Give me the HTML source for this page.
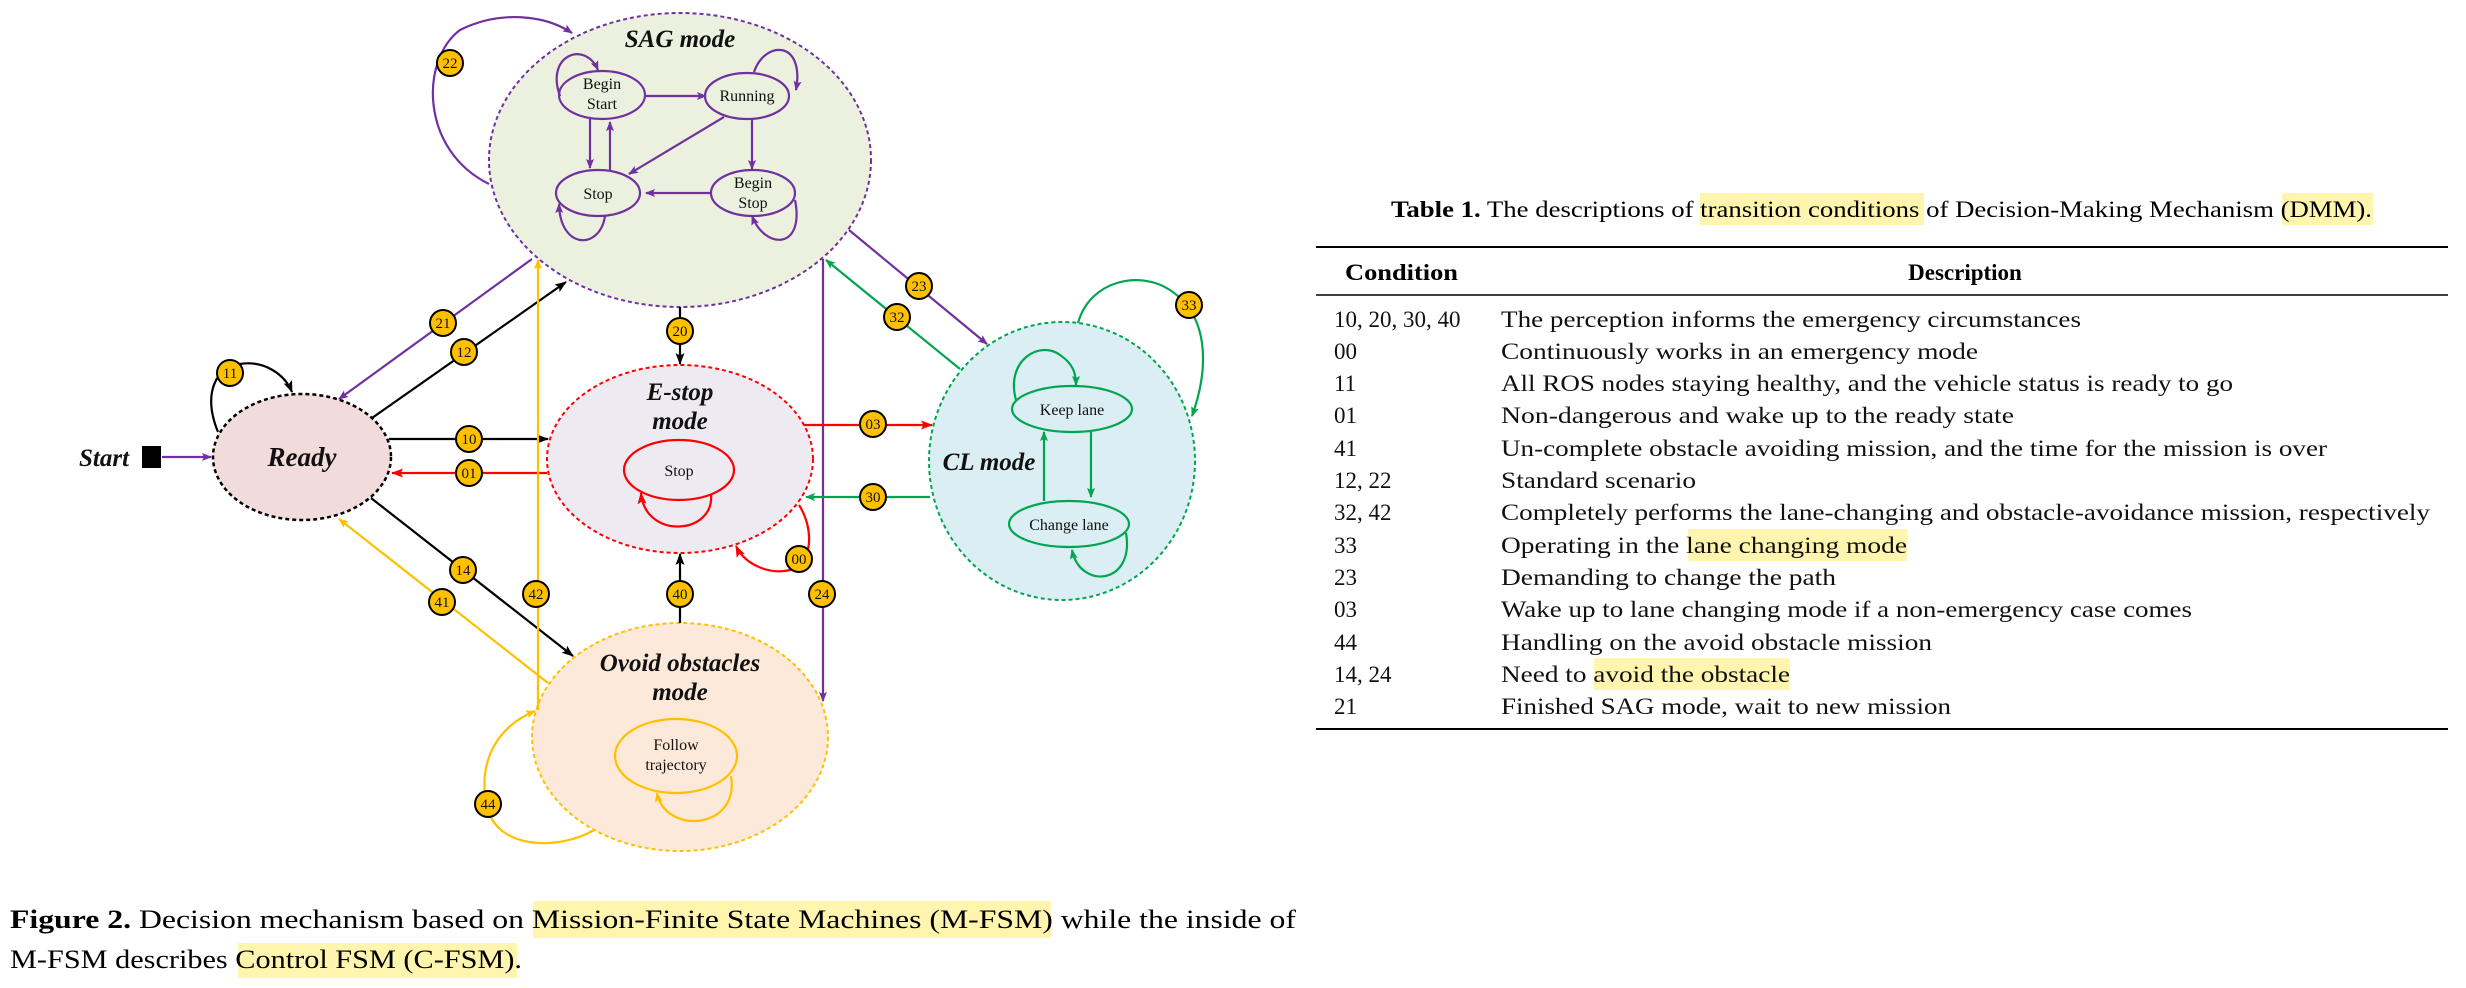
<!DOCTYPE html>
<html><head><meta charset="utf-8"><style>
html,body{margin:0;padding:0;background:#fff;}
svg{display:block;}
text{font-family:"Liberation Serif",serif;}
</style></head><body>
<svg width="2466" height="988" viewBox="0 0 2466 988" xmlns="http://www.w3.org/2000/svg">
<defs>
<marker id="ap" markerWidth="10" markerHeight="8" refX="9" refY="4" orient="auto" markerUnits="userSpaceOnUse"><path d="M0,0 L10,4 L0,8 L2,4z" fill="#7030A0"/></marker>
<marker id="ak" markerWidth="12" markerHeight="9" refX="11" refY="4.5" orient="auto" markerUnits="userSpaceOnUse"><path d="M0,0 L12,4.5 L0,9 L2.5,4.5z" fill="#000"/></marker>
<marker id="ar" markerWidth="12" markerHeight="9" refX="11" refY="4.5" orient="auto" markerUnits="userSpaceOnUse"><path d="M0,0 L12,4.5 L0,9 L2.5,4.5z" fill="#FF0000"/></marker>
<marker id="ag" markerWidth="10" markerHeight="8" refX="9" refY="4" orient="auto" markerUnits="userSpaceOnUse"><path d="M0,0 L10,4 L0,8 L2,4z" fill="#00A64F"/></marker>
<marker id="ao" markerWidth="10" markerHeight="8" refX="9" refY="4" orient="auto" markerUnits="userSpaceOnUse"><path d="M0,0 L10,4 L0,8 L2,4z" fill="#FFC000"/></marker>
</defs>

<!-- big mode ellipses -->
<ellipse cx="680" cy="160" rx="191" ry="147" fill="#EBF1DE" stroke="#7030A0" stroke-width="2" stroke-dasharray="4 3"/>
<ellipse cx="302" cy="457" rx="89" ry="63" fill="#F2DCDB" stroke="#000" stroke-width="2.5" stroke-dasharray="4 3"/>
<ellipse cx="680" cy="459" rx="133" ry="94" fill="#EDEAF2" stroke="#FF0000" stroke-width="2" stroke-dasharray="4 3"/>
<ellipse cx="1062" cy="461" rx="133" ry="139" fill="#DAEEF3" stroke="#00A64F" stroke-width="2" stroke-dasharray="4 3"/>
<ellipse cx="680" cy="737" rx="148" ry="114" fill="#FDE9D9" stroke="#FFC000" stroke-width="2" stroke-dasharray="4 3"/>

<g font-weight="bold" font-style="italic" font-size="25" text-anchor="middle" fill="#111">
<text x="680" y="47">SAG mode</text>
<text x="302" y="466" font-size="27">Ready</text>
<text x="680" y="400">E-stop</text>
<text x="680" y="429">mode</text>
<text x="989" y="470">CL mode</text>
<text x="680" y="671">Ovoid obstacles</text>
<text x="680" y="700">mode</text>
<text x="104" y="466" text-anchor="middle">Start</text>
</g>
<rect x="142" y="446" width="19" height="22" fill="#000"/>

<!-- inner nodes -->
<g fill="none" stroke-width="2.2">
<ellipse cx="602" cy="95" rx="43" ry="24" stroke="#7030A0"/>
<ellipse cx="747" cy="96" rx="42" ry="23" stroke="#7030A0"/>
<ellipse cx="598" cy="193" rx="42" ry="23" stroke="#7030A0"/>
<ellipse cx="753" cy="193" rx="42" ry="23" stroke="#7030A0"/>
<ellipse cx="679" cy="470" rx="55" ry="30" stroke="#FF0000"/>
<ellipse cx="1072" cy="409" rx="60" ry="23" stroke="#00A64F"/>
<ellipse cx="1069" cy="524" rx="60" ry="23" stroke="#00A64F"/>
<ellipse cx="676" cy="756" rx="61" ry="37" stroke="#FFC000"/>
</g>
<g font-size="16" text-anchor="middle" fill="#111">
<text x="602" y="89">Begin</text><text x="602" y="109">Start</text>
<text x="747" y="101">Running</text>
<text x="598" y="199">Stop</text>
<text x="753" y="188">Begin</text><text x="753" y="208">Stop</text>
<text x="679" y="476">Stop</text>
<text x="1072" y="415">Keep lane</text>
<text x="1069" y="530">Change lane</text>
<text x="676" y="750">Follow</text><text x="676" y="770">trajectory</text>
</g>

<!-- edges -->
<g fill="none" stroke-width="2.2">
<!-- purple -->
<path d="M162,457 L211,457" stroke="#7030A0" marker-end="url(#ap)"/>
<path d="M532,259 L339,399" stroke="#7030A0" marker-end="url(#ap)"/>
<path d="M489,184 C420,150 420,60 460,30 C500,10 545,15 572,33" stroke="#7030A0" marker-end="url(#ap)"/>
<path d="M823,259 L823,701" stroke="#7030A0" marker-end="url(#ap)"/>
<path d="M849,230 L987,344" stroke="#7030A0" marker-end="url(#ap)"/>
<path d="M646,96 L706,96" stroke="#7030A0" marker-end="url(#ap)"/>
<path d="M560,96 C545,55 585,40 598,70" stroke="#7030A0" marker-end="url(#ap)"/>
<path d="M754,72 C765,40 805,40 796,90" stroke="#7030A0" marker-end="url(#ap)"/>
<path d="M590,119 L590,168" stroke="#7030A0" marker-end="url(#ap)"/>
<path d="M610,170 L610,122" stroke="#7030A0" marker-end="url(#ap)"/>
<path d="M724,117 L629,174" stroke="#7030A0" marker-end="url(#ap)"/>
<path d="M752,119 L752,169" stroke="#7030A0" marker-end="url(#ap)"/>
<path d="M711,193 L646,193" stroke="#7030A0" marker-end="url(#ap)"/>
<path d="M605,216 C600,250 560,250 559,204" stroke="#7030A0" marker-end="url(#ap)"/>
<path d="M795,200 C805,250 765,250 752,216" stroke="#7030A0" marker-end="url(#ap)"/>
<!-- black -->
<path d="M218,432 C205,400 210,370 240,364 C265,360 285,375 292,392" stroke="#000" marker-end="url(#ak)"/>
<path d="M372,418 L566,282" stroke="#000" marker-end="url(#ak)"/>
<path d="M389,439 L548,439" stroke="#000" marker-end="url(#ak)"/>
<path d="M371,498 L573,656" stroke="#000" marker-end="url(#ak)"/>
<path d="M680,307 L680,364" stroke="#000" marker-end="url(#ak)"/>
<path d="M680,623 L680,554" stroke="#000" marker-end="url(#ak)"/>
<!-- red -->
<path d="M547,473 L392,473" stroke="#FF0000" marker-end="url(#ar)"/>
<path d="M804,425 L932,425" stroke="#FF0000" marker-end="url(#ar)"/>
<path d="M799,505 C815,530 812,565 790,570 C770,575 745,565 736,546" stroke="#FF0000" marker-end="url(#ar)"/>
<path d="M711,494 C715,535 645,540 641,493" stroke="#FF0000" marker-end="url(#ar)"/>
<!-- green -->
<path d="M930,497 L806,497" stroke="#00A64F" marker-end="url(#ag)"/>
<path d="M960,369 L826,260" stroke="#00A64F" marker-end="url(#ag)"/>
<path d="M1078,323 C1090,280 1140,270 1170,290 C1215,320 1205,380 1192,416" stroke="#00A64F" marker-end="url(#ag)"/>
<path d="M1091,432 L1091,497" stroke="#00A64F" marker-end="url(#ag)"/>
<path d="M1044,501 L1044,432" stroke="#00A64F" marker-end="url(#ag)"/>
<path d="M1016,400 C1005,360 1040,340 1060,355 C1072,363 1076,372 1076,385" stroke="#00A64F" marker-end="url(#ag)"/>
<path d="M1126,533 C1135,585 1080,590 1072,550" stroke="#00A64F" marker-end="url(#ag)"/>
<!-- orange -->
<path d="M548,683 L339,519" stroke="#FFC000" marker-end="url(#ao)"/>
<path d="M538,710 L538,260" stroke="#FFC000" marker-end="url(#ao)"/>
<path d="M594,830 C560,850 500,850 488,810 C475,760 500,725 535,711" stroke="#FFC000" marker-end="url(#ao)"/>
<path d="M731,776 C740,830 665,835 657,793" stroke="#FFC000" marker-end="url(#ao)"/>
</g>

<!-- labels -->
<g font-size="15" text-anchor="middle">
<g fill="#FFC000" stroke="#000" stroke-width="2">
<circle cx="450" cy="63" r="13"/><circle cx="443" cy="323" r="13"/><circle cx="464" cy="352" r="13"/>
<circle cx="230" cy="373" r="13"/><circle cx="469" cy="439" r="13"/><circle cx="469" cy="473" r="13"/>
<circle cx="680" cy="331" r="13"/><circle cx="873" cy="424" r="13"/><circle cx="873" cy="497" r="13"/>
<circle cx="919" cy="286" r="13"/><circle cx="897" cy="317" r="13"/><circle cx="1189" cy="305" r="13"/>
<circle cx="799" cy="559" r="13"/><circle cx="463" cy="570" r="13"/><circle cx="442" cy="602" r="13"/>
<circle cx="536" cy="594" r="13"/><circle cx="680" cy="594" r="13"/><circle cx="822" cy="594" r="13"/>
<circle cx="488" cy="804" r="13"/>
</g>
<g fill="#111">
<text x="450" y="68">22</text><text x="443" y="328">21</text><text x="464" y="357">12</text>
<text x="230" y="378">11</text><text x="469" y="444">10</text><text x="469" y="478">01</text>
<text x="680" y="336">20</text><text x="873" y="429">03</text><text x="873" y="502">30</text>
<text x="919" y="291">23</text><text x="897" y="322">32</text><text x="1189" y="310">33</text>
<text x="799" y="564">00</text><text x="463" y="575">14</text><text x="442" y="607">41</text>
<text x="536" y="599">42</text><text x="680" y="599">40</text><text x="822" y="599">24</text>
<text x="488" y="809">44</text>
</g>
</g>

<!-- caption -->
<rect x="533" y="901" width="518" height="37" fill="#FFF5AE"/>
<rect x="238" y="943" width="279" height="35" fill="#FFF5AE"/>
<text x="10" y="928" font-size="26" textLength="1286" lengthAdjust="spacingAndGlyphs"><tspan font-weight="bold">Figure 2.</tspan> Decision mechanism based on Mission-Finite State Machines (M-FSM) while the inside of</text>
<text x="10" y="968" font-size="26" textLength="512" lengthAdjust="spacingAndGlyphs">M-FSM describes Control FSM (C-FSM).</text>

<!-- table -->
<rect x="1700" y="193" width="224" height="32" fill="#FFF5AE"/>
<rect x="2282" y="193" width="91" height="32" fill="#FFF5AE"/>
<text x="1391" y="217" font-size="23" textLength="981" lengthAdjust="spacingAndGlyphs"><tspan font-weight="bold">Table 1.</tspan> The descriptions of transition conditions of Decision-Making Mechanism (DMM).</text>
<line x1="1316" y1="247" x2="2448" y2="247" stroke="#000" stroke-width="2"/>
<line x1="1316" y1="295" x2="2448" y2="295" stroke="#000" stroke-width="1.5"/>
<line x1="1316" y1="729" x2="2448" y2="729" stroke="#000" stroke-width="2"/>
<text x="1345" y="280" font-size="23" font-weight="bold" textLength="113" lengthAdjust="spacingAndGlyphs">Condition</text>
<text x="1965" y="280" font-size="23" font-weight="bold" text-anchor="middle">Description</text>
<rect x="1688" y="529" width="219" height="32" fill="#FFF5AE"/>
<rect x="1594" y="658" width="196" height="32" fill="#FFF5AE"/>
<g font-size="23" fill="#111">
<text x="1334" y="327">10, 20, 30, 40</text><text x="1501" y="327" textLength="580" lengthAdjust="spacingAndGlyphs">The perception informs the emergency circumstances</text>
<text x="1334" y="359">00</text><text x="1501" y="359" textLength="477" lengthAdjust="spacingAndGlyphs">Continuously works in an emergency mode</text>
<text x="1334" y="391">11</text><text x="1501" y="391" textLength="732" lengthAdjust="spacingAndGlyphs">All ROS nodes staying healthy, and the vehicle status is ready to go</text>
<text x="1334" y="423">01</text><text x="1501" y="423" textLength="513" lengthAdjust="spacingAndGlyphs">Non-dangerous and wake up to the ready state</text>
<text x="1334" y="456">41</text><text x="1501" y="456" textLength="826" lengthAdjust="spacingAndGlyphs">Un-complete obstacle avoiding mission, and the time for the mission is over</text>
<text x="1334" y="488">12, 22</text><text x="1501" y="488" textLength="195" lengthAdjust="spacingAndGlyphs">Standard scenario</text>
<text x="1334" y="520">32, 42</text><text x="1501" y="520" textLength="929" lengthAdjust="spacingAndGlyphs">Completely performs the lane-changing and obstacle-avoidance mission, respectively</text>
<text x="1334" y="553">33</text><text x="1501" y="553" textLength="406" lengthAdjust="spacingAndGlyphs">Operating in the lane changing mode</text>
<text x="1334" y="585">23</text><text x="1501" y="585" textLength="335" lengthAdjust="spacingAndGlyphs">Demanding to change the path</text>
<text x="1334" y="617">03</text><text x="1501" y="617" textLength="691" lengthAdjust="spacingAndGlyphs">Wake up to lane changing mode if a non-emergency case comes</text>
<text x="1334" y="650">44</text><text x="1501" y="650" textLength="431" lengthAdjust="spacingAndGlyphs">Handling on the avoid obstacle mission</text>
<text x="1334" y="682">14, 24</text><text x="1501" y="682" textLength="289" lengthAdjust="spacingAndGlyphs">Need to avoid the obstacle</text>
<text x="1334" y="714">21</text><text x="1501" y="714" textLength="450" lengthAdjust="spacingAndGlyphs">Finished SAG mode, wait to new mission</text>
</g>
</svg>
</body></html>
